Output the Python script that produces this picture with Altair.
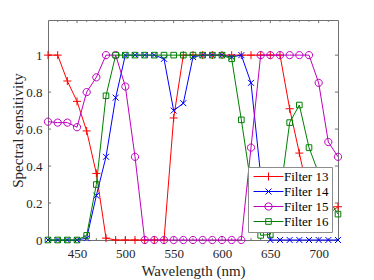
import altair as alt
import pandas as pd

wavelength = list(range(420, 721, 10))
filter13 = [1.0, 1.0, 0.86, 0.75, 0.59, 0.36, 0.01, 0.0, 0.0, 0.0, 0.0, 0.0, 0.0, 0.66, 1.0, 1.0,
            1.0, 1.0, 1.0, 1.0, 1.0, 1.0, 1.0, 1.0, 1.0, 0.71, 0.47, 0.23, 0.10, 0.14, 0.18]
filter14 = [0.0, 0.0, 0.0, 0.0, 0.01, 0.24, 0.45, 0.77, 1.0, 1.0, 1.0, 1.0, 0.98, 0.70, 0.74, 0.99,
            1.0, 1.0, 1.0, 0.99, 1.0, 0.85, 0.35, 0.0, 0.0, 0.0, 0.0, 0.0, 0.0, 0.0, 0.0]
filter15 = [0.64, 0.635, 0.635, 0.61, 0.80, 0.88, 1.0, 1.0, 0.83, 0.45, 0.0, 0.0, 0.0, 0.0, 0.0, 0.0,
            0.0, 0.0, 0.0, 0.0, 0.0, 0.5, 1.0, 1.0, 1.0, 1.0, 1.0, 1.0, 0.85, 0.53, 0.45]
filter16 = [0.0, 0.0, 0.0, 0.0, 0.025, 0.30, 0.78, 1.0, 1.0, 1.0, 1.0, 1.0, 1.0, 1.0, 1.0, 1.0,
            1.0, 1.0, 1.0, 0.98, 0.65, 0.30, 0.025, 0.03, 0.24, 0.635, 0.73, 0.50, 0.36, 0.22, 0.14]

series_names = ["Filter 13", "Filter 14", "Filter 15", "Filter 16"]
series_colors = ["#FF0000", "#0000FF", "#BF00BF", "#008000"]
marker_paths = [
    "M-1,0H1M0,-1V1",
    "M-0.75,-0.75L0.75,0.75M-0.75,0.75L0.75,-0.75",
    "M0.9,0A0.9,0.9 0 1,1 -0.9,0A0.9,0.9 0 1,1 0.9,0Z",
    "M-0.7,-0.7H0.7V0.7H-0.7Z",
]
legend_paths = [
    "M-3.75,0H3.75M0,-1V1",
    "M-3.75,0H3.75M-0.75,-0.75L0.75,0.75M-0.75,0.75L0.75,-0.75",
    "M-3.75,0H3.75M0.9,0A0.9,0.9 0 1,1 -0.9,0A0.9,0.9 0 1,1 0.9,0Z",
    "M-3.75,0H3.75M-0.7,-0.7H0.7V0.7H-0.7Z",
]

x_tick_values = [450, 500, 550, 600, 650, 700]
x_minor_values = [w for w in range(430, 720, 10) if w not in x_tick_values]
y_tick_values = [0, 0.2, 0.4, 0.6, 0.8, 1.0]

X_MIN, X_MAX = 420, 720
Y_MIN, Y_MAX = 0, 1.19

rows = []
for name, vals in zip(series_names, [filter13, filter14, filter15, filter16]):
    for w, v in zip(wavelength, vals):
        rows.append({"wl": w, "val": v, "series": name})
df = pd.DataFrame(rows)

# inner tick marks (MATLAB style, pointing inwards)
xt_rows = []
for t in x_tick_values:
    xt_rows.append({"wl": t, "val": Y_MIN, "val2": Y_MIN + 0.017})
    xt_rows.append({"wl": t, "val": Y_MAX, "val2": Y_MAX - 0.017})
for t in x_minor_values:
    xt_rows.append({"wl": t, "val": Y_MIN, "val2": Y_MIN + 0.010})
    xt_rows.append({"wl": t, "val": Y_MAX, "val2": Y_MAX - 0.010})
xt_df = pd.DataFrame(xt_rows)
yt_rows = []
for t in y_tick_values:
    yt_rows.append({"wl": X_MIN, "wl2": X_MIN + 3.2, "val": t})
    yt_rows.append({"wl": X_MAX, "wl2": X_MAX - 3.2, "val": t})
yt_df = pd.DataFrame(yt_rows)

FONT = "Liberation Serif"
TXT = "#262626"
FRAME = "#707070"

x_scale = alt.Scale(domain=[X_MIN, X_MAX], nice=False, zero=False)
y_scale = alt.Scale(domain=[Y_MIN, Y_MAX], nice=False, zero=False)
x_axis = alt.Axis(values=x_tick_values, labelFont=FONT, titleFont=FONT, labelFontSize=13,
                  labelPadding=7, titleFontSize=15, titlePadding=3, titleFontWeight="normal")
y_axis = alt.Axis(values=y_tick_values, format=".1~f", labelFont=FONT, titleFont=FONT,
                  labelFontSize=13, labelPadding=6, titleFontSize=15, titlePadding=0,
                  titleFontWeight="normal")


def xe(field="wl"):
    return alt.X(f"{field}:Q", scale=x_scale, axis=x_axis, title="Wavelength (nm)")


def ye(field="val"):
    return alt.Y(f"{field}:Q", scale=y_scale, axis=y_axis, title="Spectral sensitivity")


base = alt.Chart(df)
layers = []

layers.append(alt.Chart(xt_df).mark_rule(color=FRAME, strokeWidth=1).encode(
    x=xe(), y=ye(), y2="val2:Q"))
layers.append(alt.Chart(yt_df).mark_rule(color=FRAME, strokeWidth=1).encode(
    x=xe(), x2="wl2:Q", y=ye()))

for name, c, p in zip(series_names, series_colors, marker_paths):
    sub = base.transform_filter(alt.datum.series == name)
    layers.append(sub.mark_line(color=c, strokeWidth=1).encode(x=xe(), y=ye()))
    layers.append(sub.mark_point(shape=p, color=c, filled=False, size=64, strokeWidth=1,
                                 opacity=1).encode(x=xe(), y=ye()))

leg = alt.Legend(orient="none", legendX=200, legendY=147, title=None, fillColor="white",
                 strokeColor="#8c8c8c", padding=3, symbolSize=64, symbolStrokeWidth=1,
                 symbolOffset=11, labelOffset=9, labelFont=FONT, labelFontSize=13,
                 labelColor="black", rowPadding=1)
legend_layer = base.transform_filter("datum.wl < 0").mark_point(
    filled=False, size=64, strokeWidth=1, opacity=1).encode(
    x=xe(), y=ye(),
    color=alt.Color("series:N", scale=alt.Scale(domain=series_names, range=series_colors), legend=leg),
    shape=alt.Shape("series:N", scale=alt.Scale(domain=series_names, range=legend_paths), legend=leg),
)
layers.append(legend_layer)

chart = alt.layer(*layers).properties(
    width=290, height=220,
    autosize=alt.AutoSizeParams(type="none"),
    padding={"left": 40, "top": 12, "right": 28, "bottom": 42},
    background="white",
).configure(font=FONT).configure_view(stroke=FRAME, strokeWidth=1).configure_axis(
    domain=False, ticks=False, tickSize=0, grid=False, labelFont=FONT, titleFont=FONT,
    labelColor=TXT, titleColor=TXT,
).configure_legend(labelFont=FONT)

chart.save("out.html", embed_options={"renderer": "svg", "actions": False})
